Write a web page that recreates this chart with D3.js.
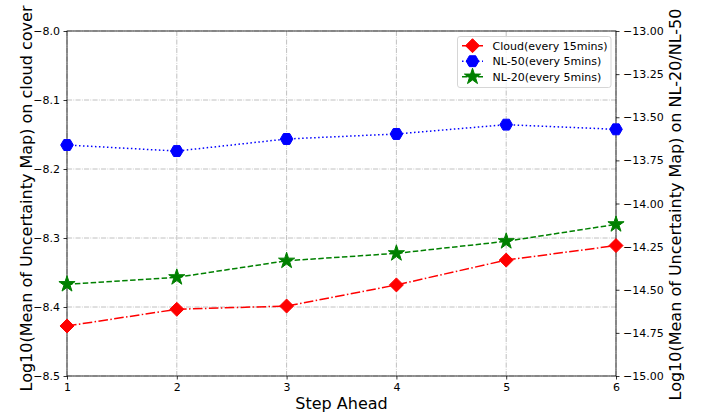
<!DOCTYPE html>
<html><head><meta charset="utf-8">
<script src="https://cdn.jsdelivr.net/npm/d3@7"></script>
<style>body{margin:0;background:#fff}svg{display:block;font-family:"DejaVu Sans",sans-serif}</style>
</head><body><svg id="c" width="702" height="420"></svg>
<script>
const steps = [1, 2, 3, 4, 5, 6];
const cloud = [-8.4275, -8.4033, -8.3986, -8.368, -8.332, -8.311];
const nl50 = [-13.661, -13.696, -13.626, -13.597, -13.543, -13.570];
const nl20 = [-14.468, -14.428, -14.332, -14.289, -14.219, -14.121];
const leftTicks = [-8.0, -8.1, -8.2, -8.3, -8.4, -8.5];
const rightTicks = [-13.0, -13.25, -13.5, -13.75, -14.0, -14.25, -14.5, -14.75, -15.0];
const seriesNames = ["Cloud(every 15mins)", "NL-50(every 5mins)", "NL-20(every 5mins)"];
const xLabel = "Step Ahead";
const yLabelLeft = "Log10(Mean of Uncertainty Map) on cloud cover";
const yLabelRight = "Log10(Mean of Uncertainty Map) on NL-20/NL-50";

const svg = d3.select("#c");
const L = 67, R = 616, T = 31, B = 376;
const x = d3.scaleLinear().domain([1, 6]).range([L, R]);
const yL = d3.scaleLinear().domain([-8.5, -8.0]).range([B, T]);
const yR = d3.scaleLinear().domain([-15, -13]).range([B, T]);
const fmtMinus = s => s.replace("-", "\u2212");

// grid
const grid = svg.append("g").attr("stroke", "#b0b0b0").attr("stroke-width", 0.8)
  .attr("stroke-dasharray", "5.1,1.3,0.8,1.3").attr("fill", "none");
steps.forEach(s => grid.append("line").attr("x1", x(s)).attr("x2", x(s)).attr("y1", T).attr("y2", B));
leftTicks.forEach(t => grid.append("line").attr("x1", L).attr("x2", R).attr("y1", yL(t)).attr("y2", yL(t)));

// axes
const axB = svg.append("g").attr("transform", `translate(0,${B})`)
  .call(d3.axisBottom(x).tickValues(steps).tickFormat(d3.format("d")).tickSizeOuter(0).tickSize(3.5).tickPadding(3.5));
const axL = svg.append("g").attr("transform", `translate(${L},0)`)
  .call(d3.axisLeft(yL).tickValues(leftTicks).tickFormat(d => fmtMinus(d3.format(".1f")(d))).tickSizeOuter(0).tickSize(3.5).tickPadding(3.5));
const axR = svg.append("g").attr("transform", `translate(${R},0)`)
  .call(d3.axisRight(yR).tickValues(rightTicks).tickFormat(d => fmtMinus(d3.format(".2f")(d))).tickSizeOuter(0).tickSize(3.5).tickPadding(3.5));
[axB, axL, axR].forEach(a => {
  a.selectAll("text").attr("font-size", 11).attr("fill", "#000").attr("font-family", "DejaVu Sans");
  a.selectAll("line").attr("stroke", "#000").attr("stroke-width", 0.8);
  a.select(".domain").remove();
});
// spines
svg.append("rect").attr("x", L).attr("y", T).attr("width", R - L).attr("height", B - T)
  .attr("fill", "none").attr("stroke", "#000").attr("stroke-width", 0.8);

// markers
function diamondPath(r) { return `M0,${-r}L${r},0L0,${r}L${-r},0Z`; }
function hexPath(r) {
  const pts = d3.range(6).map(i => { const a = i * Math.PI / 3; return [r * Math.cos(a), r * Math.sin(a)]; });
  return "M" + pts.map(p => p.join(",")).join("L") + "Z";
}
function starPath(r) {
  const ri = r * 0.381966, pts = [];
  for (let i = 0; i < 10; i++) {
    const a = -Math.PI / 2 + i * Math.PI / 5, rr = i % 2 ? ri : r;
    pts.push([rr * Math.cos(a), rr * Math.sin(a)]);
  }
  return "M" + pts.map(p => p.join(",")).join("L") + "Z";
}
const series = [
  { vals: cloud, y: yL, color: "#ff0000", dash: "9.6,2.4,1.5,2.4", marker: diamondPath(7) },
  { vals: nl50, y: yR, color: "#0000ff", dash: "1.5,2.5", marker: hexPath(6.3) },
  { vals: nl20, y: yR, color: "#008000", dash: "5.5,2.4", marker: starPath(8.5) },
];
series.forEach(s => {
  const line = d3.line().x((d, i) => x(steps[i])).y(d => s.y(d));
  svg.append("path").attr("d", line(s.vals)).attr("fill", "none").attr("stroke", s.color)
    .attr("stroke-width", 1.5).attr("stroke-dasharray", s.dash);
  svg.append("g").selectAll("path").data(s.vals).join("path")
    .attr("transform", (d, i) => `translate(${x(steps[i])},${s.y(d)})`)
    .attr("d", s.marker).attr("fill", s.color).attr("stroke", s.color).attr("stroke-width", 1);
});

// legend
const lg = svg.append("g");
lg.append("rect").attr("x", 457.5).attr("y", 36.5).attr("width", 153.5).attr("height", 51)
  .attr("rx", 2.5).attr("fill", "#fff").attr("fill-opacity", 0.8).attr("stroke", "#cccccc").attr("stroke-width", 0.8);
series.forEach((s, i) => {
  const yy = 45.7 + i * 15.5;
  lg.append("line").attr("x1", 462).attr("x2", 483).attr("y1", yy).attr("y2", yy)
    .attr("stroke", s.color).attr("stroke-width", 1.5).attr("stroke-dasharray", s.dash);
  lg.append("path").attr("transform", `translate(472.5,${yy})`).attr("d", s.marker)
    .attr("fill", s.color).attr("stroke", s.color).attr("stroke-width", 1);
  lg.append("text").attr("x", 492.5).attr("y", yy).attr("dy", "0.35em").attr("font-size", 11)
    .text(seriesNames[i]);
});

// axis labels
svg.append("text").attr("x", (L + R) / 2).attr("y", 409).attr("text-anchor", "middle")
  .attr("font-size", 16).text(xLabel);
svg.append("text").attr("transform", `translate(32,${(T + B) / 2 - 5}) rotate(-90)`).attr("text-anchor", "middle")
  .attr("font-size", 16).text(yLabelLeft);
svg.append("text").attr("transform", `translate(681,${(T + B) / 2 + 1}) rotate(-90)`).attr("text-anchor", "middle")
  .attr("font-size", 16).text(yLabelRight);
</script></body></html>
